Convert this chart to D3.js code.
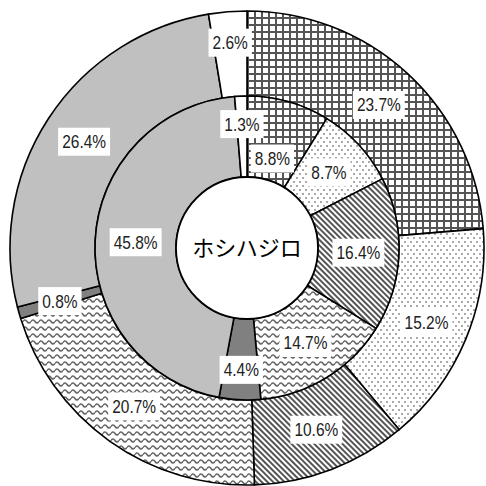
<!DOCTYPE html>
<html><head><meta charset="utf-8">
<script src="https://cdn.jsdelivr.net/npm/d3@7"></script>
<style>html,body{margin:0;padding:0;background:#fff;}</style>
</head><body>
<svg id="chart" width="486" height="486"></svg>
<script>
const categories = ["grid", "dots", "hatch", "wave", "dark", "light", "white"];
const outerValues = [23.7, 15.2, 10.6, 20.7, 0.8, 26.4, 2.6];
const innerValues = [8.8, 8.7, 16.4, 14.7, 4.4, 45.8, 1.3];
const centerTitle = "ホシハジロ";

// label radius overrides (style): [ring][index] -> radius
const innerLabelR = {0: 93, 4: 122, 6: 124};
const outerLabelR = {6: 206};

const W = 486, H = 486, cx = 247, cy = 248;
const rOuter = 237, rMid = 152, rHole = 71;
const svg = d3.select("#chart");
const defs = svg.append("defs");

// patterns
let p = defs.append("pattern").attr("id","p-grid").attr("patternUnits","userSpaceOnUse").attr("width",7).attr("height",7);
p.append("rect").attr("width",7).attr("height",7).attr("fill","#fff");
p.append("rect").attr("width",7).attr("height",2).attr("fill","#555");
p.append("rect").attr("width",2).attr("height",7).attr("fill","#555");

p = defs.append("pattern").attr("id","p-dots").attr("patternUnits","userSpaceOnUse").attr("width",6).attr("height",8);
p.append("rect").attr("width",6).attr("height",8).attr("fill","#fff");
p.append("rect").attr("x",1).attr("y",1).attr("width",2).attr("height",2).attr("fill","#aaa");
p.append("rect").attr("x",4).attr("y",5).attr("width",2).attr("height",2).attr("fill","#aaa");

p = defs.append("pattern").attr("id","p-hatch").attr("patternUnits","userSpaceOnUse").attr("width",4).attr("height",4).attr("patternTransform","rotate(-45)");
p.append("rect").attr("width",4).attr("height",4).attr("fill","#fff");
p.append("rect").attr("width",2).attr("height",4).attr("fill","#555");

p = defs.append("pattern").attr("id","p-wave").attr("patternUnits","userSpaceOnUse").attr("width",8).attr("height",7);
p.append("rect").attr("width",8).attr("height",7).attr("fill","#fff");
p.append("path").attr("d","M0,3.5 Q2,0.5 4,3.5 T8,3.5").attr("fill","none").attr("stroke","#666").attr("stroke-width",1.6);

const fills = {grid:"url(#p-grid)", dots:"url(#p-dots)", hatch:"url(#p-hatch)", wave:"url(#p-wave)", dark:"#808080", light:"#c0c0c0", white:"#ffffff"};

const pie = d3.pie().sort(null).value(d => d.v);
const g = svg.append("g").attr("transform", `translate(${cx},${cy})`);

function ring(values, r0, r1, overrides) {
  const data = pie(values.map((v,i) => ({v, c: categories[i], i})));
  const arc = d3.arc().innerRadius(r0).outerRadius(r1);
  g.append("g").selectAll("path").data(data).join("path")
    .attr("d", arc).attr("fill", d => fills[d.data.c])
    .attr("stroke","#000").attr("stroke-width",1.6).attr("stroke-linejoin","round");
  return data.map(d => {
    const a = (d.startAngle + d.endAngle)/2;
    const r = overrides[d.data.i] !== undefined ? overrides[d.data.i] : (r0 + r1)/2;
    return {x: Math.sin(a)*r, y: -Math.cos(a)*r, t: d.data.v.toFixed(1) + "%"};
  });
}

const labels = [
  ...ring(outerValues, rMid, rOuter, outerLabelR),
  ...ring(innerValues, rHole, rMid, innerLabelR)
];

g.append("circle").attr("r", rHole).attr("fill","#fff").attr("stroke","#000").attr("stroke-width",1.8);
g.append("text").attr("text-anchor","middle").attr("dy","0.36em")
  .attr("font-family","'Noto Sans CJK JP', sans-serif").attr("font-size",22).attr("fill","#000")
  .text(centerTitle);

const lg = g.append("g");
labels.forEach(l => {
  const gg = lg.append("g").attr("transform", `translate(${l.x},${l.y})`);
  const rect = gg.append("rect").attr("fill","#fff");
  const t = gg.append("text").attr("text-anchor","middle").attr("dy","0.36em")
    .attr("font-family","'Liberation Sans',sans-serif").attr("font-size",18).attr("fill","#222")
    .attr("transform","scale(0.86,1)")
    .text(l.t);
  const bb = t.node().getBBox();
  const w = bb.width * 0.86;
  rect.attr("x", -w/2 - 4).attr("y", -14).attr("width", w + 8).attr("height", 28);
});
</script>
</body></html>
